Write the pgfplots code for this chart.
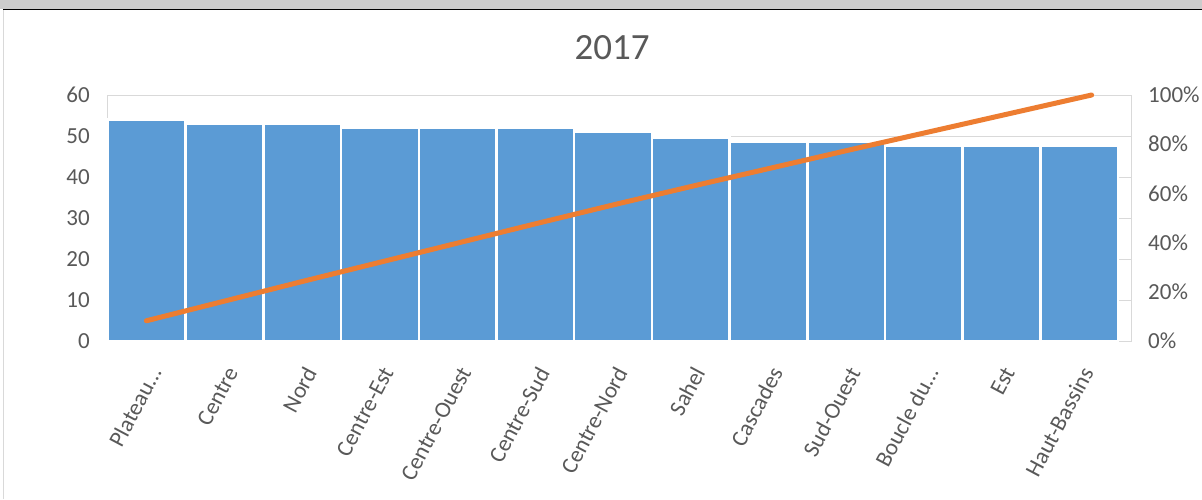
\documentclass[border=0pt]{standalone}
\usepackage{pgfplots}
\pgfplotsset{compat=1.18}
\usepackage{fontspec}
\setmainfont{Carlito}
\definecolor{barblue}{HTML}{5B9BD5}
\definecolor{lineorange}{HTML}{ED7D31}
\definecolor{txtgray}{HTML}{595959}
\definecolor{gridgray}{HTML}{D9D9D9}
\begin{document}
\begin{tikzpicture}[x=1pt,y=1pt]
\useasboundingbox (0,0) rectangle (1202,499);
\fill[white] (0,0) rectangle (1202,499);
\fill[black!20] (0,490) rectangle (1202,499);
\draw[black, line width=1.2pt] (3,489.4) -- (1202,489.4);
\draw[gridgray, line width=1pt] (3.5,0) -- (3.5,489);
\node[text=txtgray, font=\fontsize{37}{44}\selectfont] at (612,451) {2017};

\begin{axis}[at={(107pt,158pt)}, anchor=south west, scale only axis,
  width=1024pt, height=246pt,
  xmin=-0.513, xmax=12.667, ymin=0, ymax=60, ytick={0,10,...,60},
  xtick={0,...,12},
  xticklabels={Plateau…,Centre,Nord,Centre-Est,Centre-Ouest,Centre-Sud,Centre-Nord,Sahel,Cascades,Sud-Ouest,Boucle du…,Est,Haut-Bassins},
  ymajorgrids, grid style={gridgray, line width=1pt},
  axis line style={gridgray, line width=1pt},
  major tick length=0pt,
  tick label style={font=\fontsize{23}{28}\selectfont, text=txtgray},
  yticklabel style={anchor=east, inner sep=0pt, xshift=-17pt},
  xticklabel style={inner sep=0pt, xshift=1pt, yshift=-24pt, rotate=62, anchor=north east},
  /pgf/number format/assume math mode=true,
  ]
\addplot[ybar, bar width=1, fill=barblue, draw=white, line width=2.5pt] coordinates {
  (0,54) (1,53) (2,53) (3,52) (4,52) (5,52) (6,51) (7,49.6) (8,48.5) (9,48.5) (10,47.7) (11,47.7) (12,47.7)};
\end{axis}

\begin{axis}[at={(107pt,158pt)}, anchor=south west, scale only axis,
  width=1024pt, height=246pt,
  xmin=-0.5, xmax=12.5, ymin=0, ymax=100,
  axis x line=none, axis y line*=right,
  axis line style={draw=none},
  ytick={0,20,...,100},
  yticklabels={0\%,20\%,40\%,60\%,80\%,100\%},
  major tick length=0pt,
  tick label style={font=\fontsize{23}{28}\selectfont, text=txtgray},
  yticklabel style={anchor=west, inner sep=0pt, xshift=17pt},
  clip=false,
  ]
\addplot[lineorange, line width=5pt, line cap=round, line join=round] coordinates {
  (0,8.22) (1,16.29) (2,24.36) (3,32.28) (4,40.20) (5,48.12) (6,55.89) (7,63.44) (8,70.82) (9,78.21) (10,85.47) (11,92.74) (12,100)};
\end{axis}
\end{tikzpicture}
\end{document}
